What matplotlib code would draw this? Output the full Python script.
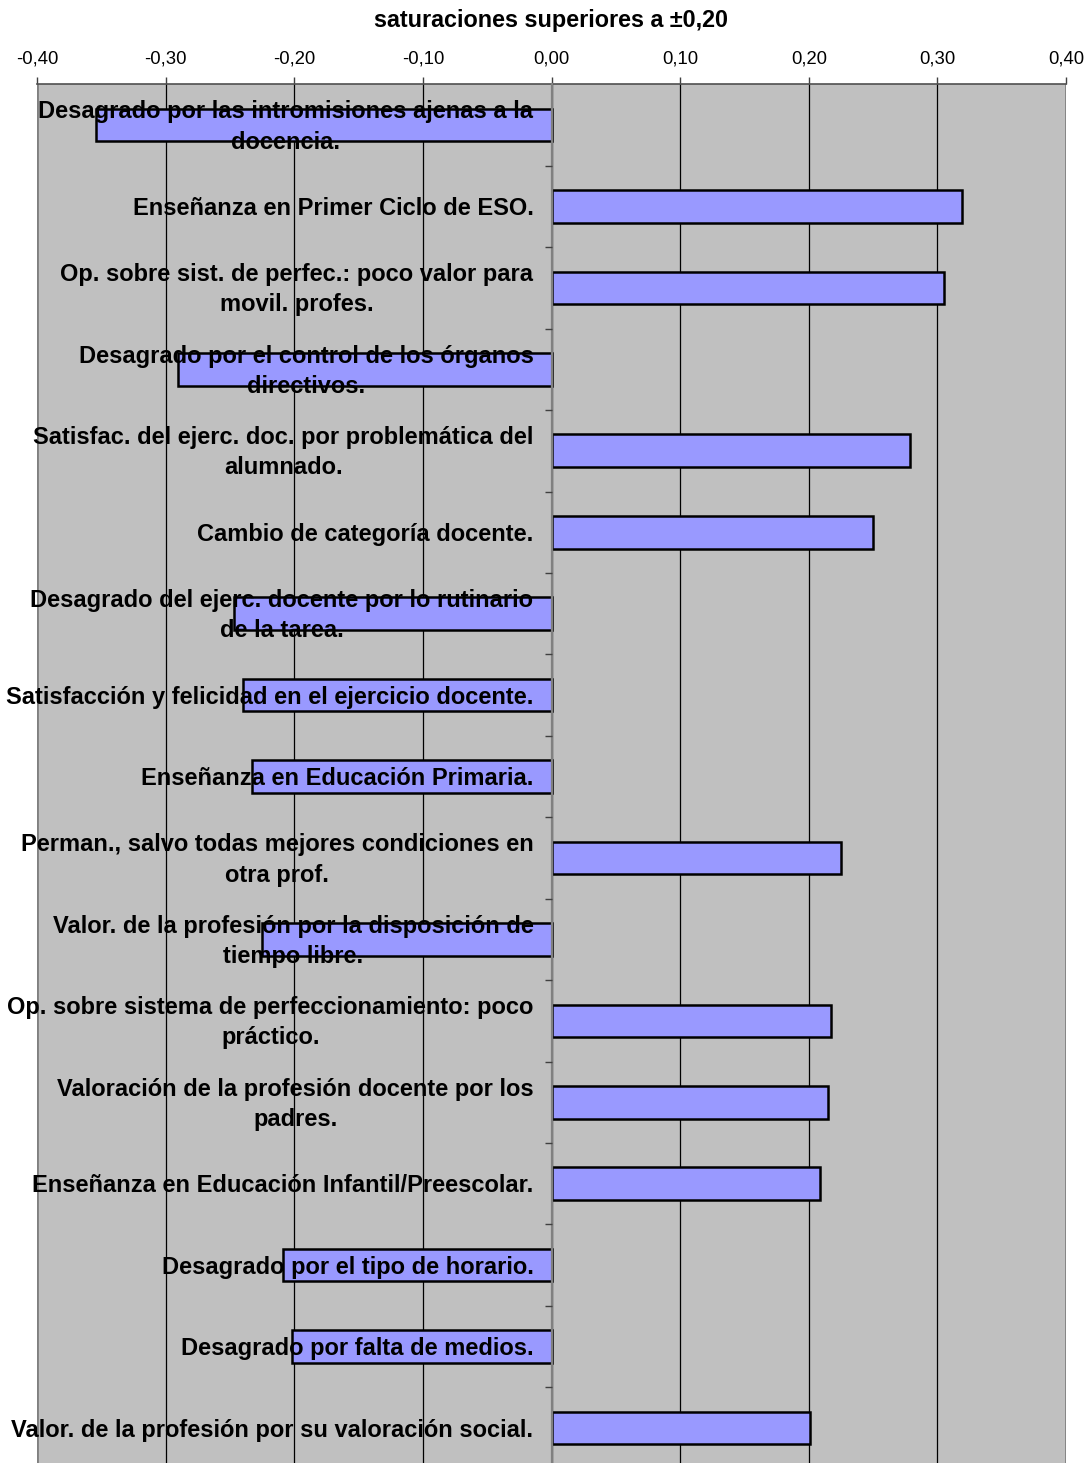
import matplotlib
matplotlib.use("Agg")
import matplotlib.pyplot as plt
import matplotlib.transforms as mtransforms
import numpy as np
from matplotlib.ticker import FixedLocator, FuncFormatter

plt.rcParams['font.family'] = ['Liberation Sans', 'DejaVu Sans']

categories = [
    "Desagrado por las intromisiones ajenas a la\ndocencia.",
    "Enseñanza en Primer Ciclo de ESO.",
    "Op. sobre sist. de perfec.: poco valor para\nmovil. profes.",
    "Desagrado por el control de los órganos\ndirectivos.",
    "Satisfac. del ejerc. doc. por problemática del\nalumnado.",
    "Cambio de categoría docente.",
    "Desagrado del ejerc. docente por lo rutinario\nde la tarea.",
    "Satisfacción y felicidad en el ejercicio docente.",
    "Enseñanza en Educación Primaria.",
    "Perman., salvo todas mejores condiciones en\notra prof.",
    "Valor. de la profesión por la disposición de\ntiempo libre.",
    "Op. sobre sistema de perfeccionamiento: poco\npráctico.",
    "Valoración de la profesión docente por los\npadres.",
    "Enseñanza en Educación Infantil/Preescolar.",
    "Desagrado por el tipo de horario.",
    "Desagrado por falta de medios.",
    "Valor. de la profesión por su valoración social.",
]
values = [-0.354, 0.319, 0.305, -0.290, 0.279, 0.250, -0.247, -0.240, -0.233,
          0.225, -0.225, 0.217, 0.215, 0.209, -0.209, -0.202, 0.201]
xticks = [-0.40, -0.30, -0.20, -0.10, 0.00, 0.10, 0.20, 0.30, 0.40]
title = "saturaciones superiores a ±0,20"

W, H = 1090, 1463
fig = plt.figure(figsize=(W / 100, H / 100), dpi=100)
left, right, top = 37 / W, 1066 / W, 84.3 / H
slot = 81.44
bottom = (84.3 + slot * len(categories)) / H
ax = fig.add_axes([left, 1 - bottom, right - left, bottom - top])
ax.set_facecolor('#C0C0C0')

y = np.arange(len(categories))
ax.barh(y, values, height=0.4, color='#9999FF', edgecolor='black', linewidth=1.8, zorder=2)

ax.set_xlim(-0.40, 0.40)
ax.set_ylim(len(categories) - 0.5, -0.5)

ax.xaxis.set_ticks_position('top')
ax.xaxis.set_label_position('top')
ax.set_xticks(xticks)
ax.xaxis.set_major_formatter(FuncFormatter(lambda v, p: f"{v:.2f}".replace('.', ',').replace('-0,00', '0,00')))
ax.tick_params(axis='x', which='major', direction='out', length=5, width=1, color='#404040',
               labelsize=13.3, pad=7)
for xv in xticks[1:-1]:
    ax.axvline(xv, color='black', linewidth=0.9, zorder=1)

ax.spines['left'].set_position(('data', 0))
ax.spines['left'].set_color('#808080')
ax.spines['left'].set_linewidth(1.6)
ax.spines['left'].set_zorder(4)
ax.spines['right'].set_visible(False)
ax.spines['bottom'].set_visible(False)
ax.spines['top'].set_color('#505050')
ax.spines['top'].set_linewidth(1.2)
ax.axvline(-0.40, color='#808080', linewidth=2, zorder=1)
ax.axvline(0.40, color='#808080', linewidth=2, zorder=1)

ax.set_yticks(y)
ax.set_yticklabels(categories, fontweight='bold', fontsize=17, multialignment='center',
                   linespacing=1.4, va='center')
ax.tick_params(axis='y', which='major', length=0, pad=13)
ax.yaxis.set_minor_locator(FixedLocator(np.arange(len(categories)) + 0.5))
ax.tick_params(axis='y', which='minor', length=5, width=1, color='#404040', direction='out')
ax.yaxis.set_zorder(5)
shift = mtransforms.ScaledTranslation(0, -2 / 100, fig.dpi_scale_trans)
for tick in ax.yaxis.get_major_ticks():
    tick.label1.set_transform(tick.label1.get_transform() + shift)

fig.text(551 / W, 1 - 20 / H, title, ha='center', va='center', fontsize=16.8, fontweight='bold')

fig.savefig('out.png', dpi=100)
